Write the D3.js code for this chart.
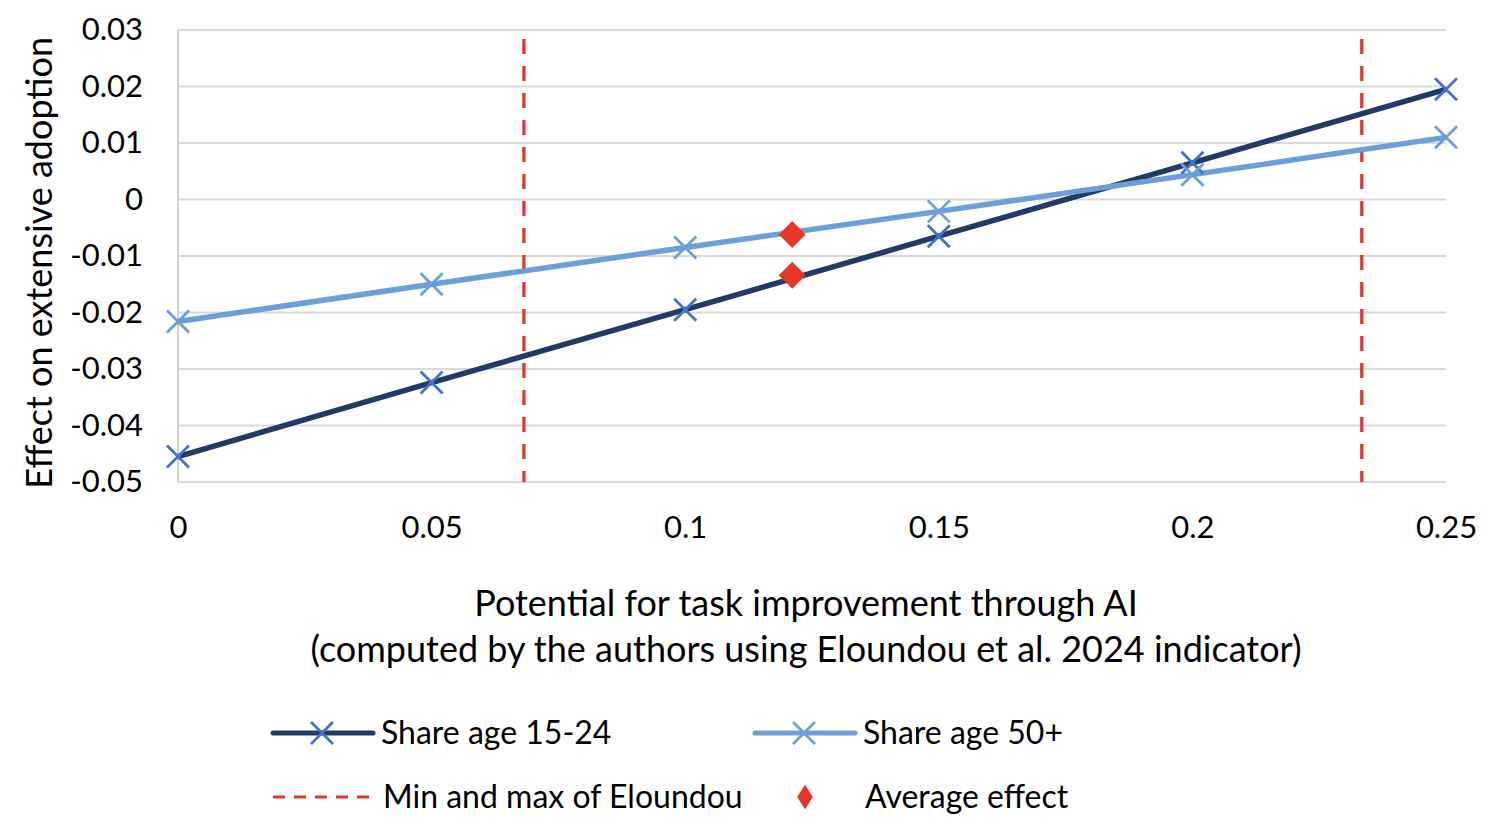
<!DOCTYPE html>
<html>
<head>
<meta charset="utf-8">
<script src="https://cdn.jsdelivr.net/npm/d3@7"></script>
<style>
  body { margin: 0; background: #fff; }
  text { font-family: Lato, "Open Sans", sans-serif; fill: #000; }
</style>
</head>
<body>
<div id="chart"></div>
<script>
// data
var xValues = [0, 0.05, 0.1, 0.15, 0.2, 0.25];
var young = [-0.0455, -0.0324, -0.0195, -0.0065, 0.0065, 0.0195];
var old = [-0.0216, -0.0150, -0.0085, -0.0021, 0.0044, 0.0110];
var elMinMax = [0.0682, 0.2334];
var avgX = 0.1211;
var avgY = [-0.0062, -0.0134];
var xTicks = [0, 0.05, 0.1, 0.15, 0.2, 0.25];
var yTicks = [0.03, 0.02, 0.01, 0, -0.01, -0.02, -0.03, -0.04, -0.05];
var labels = ["Share age 15-24", "Share age 50+", "Min and max of Eloundou", "Average effect"];

var W = 1492, H = 825;
var m = {left: 178, right: 46, top: 30, bottom: 343};
var RED = "#e8352a";

var svg = d3.select("#chart").append("svg")
    .attr("width", W).attr("height", H);

var x = d3.scaleLinear().domain([0, 0.25]).range([m.left, W - m.right]);
var y = d3.scaleLinear().domain([-0.05, 0.03]).range([H - m.bottom, m.top]);

// plain number format with a hyphen minus, like the original
var fmt = function(d) { return String(+d.toFixed(2)); };

// gridlines
svg.append("g").selectAll("line").data(yTicks).enter().append("line")
    .attr("x1", x(0)).attr("x2", x(0.25))
    .attr("y1", d => y(d)).attr("y2", d => y(d))
    .attr("stroke", "#d9d9d9").attr("stroke-width", 2);
svg.append("line")
    .attr("x1", x(0)).attr("x2", x(0))
    .attr("y1", y(0.03)).attr("y2", y(-0.05))
    .attr("stroke", "#d0d0d0").attr("stroke-width", 2);

// axes (labels only)
var yAxis = svg.append("g").attr("transform", "translate(" + (x(0) - 32) + ",0)")
    .call(d3.axisLeft(y).tickValues(yTicks).tickSize(0).tickFormat(fmt));
yAxis.select(".domain").remove();
yAxis.selectAll("text").attr("font-size", 31).attr("font-family", "Lato, 'Open Sans', sans-serif").attr("fill", "#000");

var xAxis = svg.append("g").attr("transform", "translate(0," + (y(-0.05) + 31) + ")")
    .call(d3.axisBottom(x).tickValues(xTicks).tickSize(0).tickFormat(fmt));
xAxis.select(".domain").remove();
xAxis.selectAll("text").attr("font-size", 31).attr("font-family", "Lato, 'Open Sans', sans-serif").attr("fill", "#000");

// axis titles
svg.append("text")
    .attr("transform", "translate(52," + (y(-0.0105) + 4) + ") rotate(-90)")
    .attr("text-anchor", "middle").attr("font-size", 36)
    .text("Effect on extensive adoption");
svg.append("text").attr("x", 806).attr("y", 616)
    .attr("text-anchor", "middle").attr("font-size", 36)
    .text("Potential for task improvement through AI");
svg.append("text").attr("x", 806).attr("y", 662)
    .attr("text-anchor", "middle").attr("font-size", 36)
    .text("(computed by the authors using Eloundou et al. 2024 indicator)");

// dashed min/max lines
svg.append("g").selectAll("line").data(elMinMax).enter().append("line")
    .attr("x1", d => x(d)).attr("x2", d => x(d))
    .attr("y1", 39).attr("y2", y(-0.05))
    .attr("stroke", RED).attr("stroke-width", 3.3)
    .attr("stroke-dasharray", "15,12");

var line = d3.line().x((d, i) => x(xValues[i])).y(d => y(d));

function cross(g, cx, cy, color) {
    var s = 11;
    g.append("path")
        .attr("d", "M" + (cx - s) + "," + (cy - s) + "L" + (cx + s) + "," + (cy + s) +
                   "M" + (cx - s) + "," + (cy + s) + "L" + (cx + s) + "," + (cy - s))
        .attr("stroke", color).attr("stroke-width", 2.8).attr("fill", "none");
}

var series = [
    {vals: young, color: "#223a66", mark: "#4472c4"},
    {vals: old, color: "#6a9fd7", mark: "#6a9fd7"}
];
series.forEach(function(s) {
    svg.append("path").datum(s.vals)
        .attr("d", line)
        .attr("fill", "none").attr("stroke", s.color).attr("stroke-width", 5.5)
        .attr("stroke-linejoin", "round");
});
series.forEach(function(s) {
    var g = svg.append("g");
    s.vals.forEach(function(v, i) { cross(g, x(xValues[i]), y(v), s.mark); });
});

// average effect diamonds
var diamond = d3.symbol().type(d3.symbolDiamond2).size(460);
svg.append("g").selectAll("path").data(avgY).enter().append("path")
    .attr("d", diamond)
    .attr("transform", d => "translate(" + x(avgX) + "," + y(d) + ")")
    .attr("fill", RED);

// legend
var leg = svg.append("g");
// row 1
[[273, 0], [755, 1]].forEach(function(p) {
    var s = series[p[1]];
    leg.append("line").attr("x1", p[0]).attr("x2", p[0] + 100)
        .attr("y1", 733).attr("y2", 733)
        .attr("stroke", s.color).attr("stroke-width", 5).attr("stroke-linecap", "round");
    cross(leg, p[0] + 49, 733, s.mark);
    leg.append("text").attr("x", p[0] + 108).attr("y", 744).attr("font-size", 32).text(labels[p[1]]);
});
// row 2
leg.append("line").attr("x1", 273).attr("x2", 372).attr("y1", 797).attr("y2", 797)
    .attr("stroke", RED).attr("stroke-width", 3).attr("stroke-dasharray", "12,9");
leg.append("text").attr("x", 383).attr("y", 808).attr("font-size", 32).text(labels[2]);
leg.append("path").attr("d", d3.symbol().type(d3.symbolDiamond2).size(240))
    .attr("transform", "translate(805,797) scale(0.8,1.25)").attr("fill", RED);
leg.append("text").attr("x", 865).attr("y", 808).attr("font-size", 32).text(labels[3]);
</script>
</body>
</html>
